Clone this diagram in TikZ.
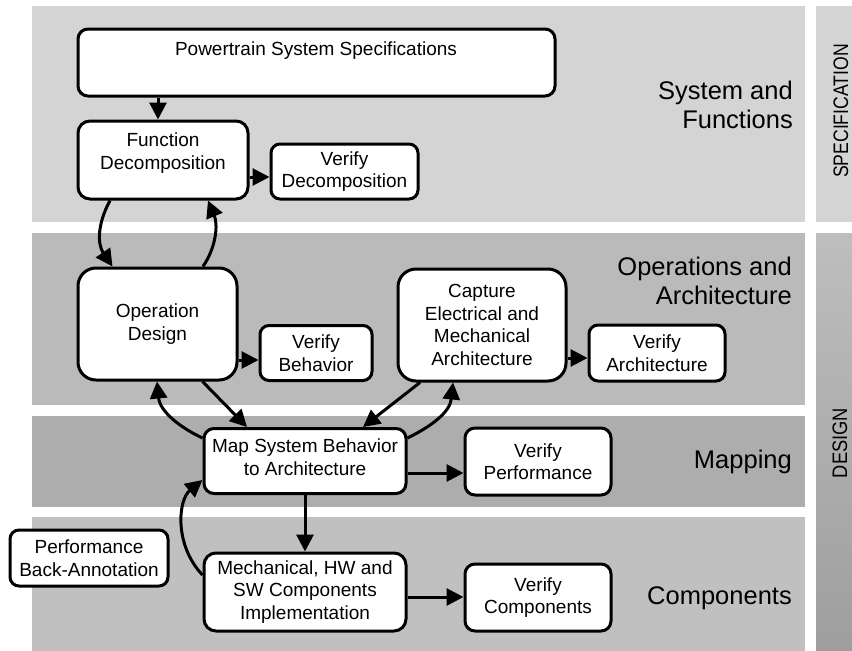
\documentclass[tikz,border=0pt]{standalone}
\usepackage{fontspec}
\setmainfont{Liberation Sans}
\usetikzlibrary{arrows.meta}
\definecolor{bandA}{HTML}{D4D4D4}
\definecolor{bandB}{HTML}{BABABA}
\definecolor{bandC}{HTML}{ADADAD}
\definecolor{bandD}{HTML}{C0C0C0}
\definecolor{dtop}{HTML}{BEBEBE}
\definecolor{dbot}{HTML}{9E9E9E}
\begin{document}
\begin{tikzpicture}[x=1pt,y=-1pt,
  box/.style={draw=black, line width=3pt, fill=white, rounded corners=9pt,
    inner sep=2pt, align=center, font=\fontsize{19}{22.5}\selectfont},
  txt/.style={inner sep=0pt, align=center, font=\fontsize{19}{22.5}\selectfont},
  lvl/.style={inner sep=0pt, align=right, font=\fontsize{25.5}{29}\selectfont},
  side/.style={inner sep=0pt, rotate=90, font=\fontsize{21}{24}\selectfont},
  arr/.style={line width=3pt, -{Triangle[length=17pt,width=17pt]}}]
\useasboundingbox (0,0) rectangle (852,651);
% bands
\fill[bandA] (32,6) rectangle (805,222);
\fill[bandB] (32,233) rectangle (805,405);
\fill[bandC] (32,416) rectangle (805,507);
\fill[bandD] (32,517) rectangle (805,651);
\fill[bandA] (816,6) rectangle (852,222);
\shade[top color=dtop, bottom color=dbot] (816,233) rectangle (852,651);
% side labels
\node[side] (spec) at (841,111) {\scalebox{0.84}[1]{SPECIFICATION}};
\node[side] (design) at (840,443) {\scalebox{0.87}[1]{DESIGN}};
% level labels
\node[lvl, anchor=east] (l1) at (793,105) {System and\\Functions};
\node[lvl, anchor=east] (l2) at (792,281) {Operations and\\Architecture};
\node[lvl, anchor=base east] (l3) at (792,468) {Mapping};
\node[lvl, anchor=base east] (l4) at (792,604) {Components};
% boxes
\node[box, rounded corners=10pt, minimum width=477pt, minimum height=67pt] (ps) at (316.5,62.5) {};
\node[txt] (pst) at (316,51) {Powertrain System Specifications};
\node[box, rounded corners=12pt, minimum width=170pt, minimum height=78pt] (fd) at (163,160) {};
\node[txt] (fdt) at (163,153) {Function\\Decomposition};
\node[box, minimum width=147pt, minimum height=55pt] (vd) at (344.5,171.5) {Verify\\Decomposition};
\node[box, rounded corners=18pt, minimum width=159pt, minimum height=112pt] (od) at (157.5,324) {Operation\\Design};
\node[box, minimum width=112pt, minimum height=55pt] (vb) at (316,353) {Verify\\Behavior};
\node[box, rounded corners=18pt, minimum width=168pt, minimum height=112pt] (cap) at (482,325) {Capture\\Electrical and\\Mechanical\\Architecture};
\node[box, minimum width=136pt, minimum height=56pt] (va) at (657,353) {Verify\\Architecture};
\node[box, rounded corners=10pt, minimum width=202pt, minimum height=65pt] (map) at (305,461) {};
\node[txt] (mapt) at (305,457) {Map System Behavior\\to Architecture};
\node[box, rounded corners=10pt, minimum width=146pt, minimum height=67pt] (vp) at (538,461.5) {Verify\\Performance};
\node[box, rounded corners=12pt, minimum width=202pt, minimum height=78pt] (mech) at (305,592) {Mechanical, HW and\\SW Components\\Implementation};
\node[box, rounded corners=10pt, minimum width=146pt, minimum height=67pt] (vc) at (538,597.5) {Verify\\Components};
\node[box, minimum width=158pt, minimum height=56pt] (pba) at (89,558) {Performance\\Back-Annotation};
% connectors
\draw[arr] ([xshift=-5pt]fd.north |- ps.south) -- ([xshift=-5pt]fd.north);
\draw[arr] ([yshift=-17pt]fd.east) -- ([yshift=-17pt]fd.east -| vd.west);
\draw[arr] ([xshift=-53pt]fd.south) .. controls ([xshift=-66pt,yshift=-24pt]fd.south) and ([xshift=-60pt,yshift=22pt]od.north) .. ([xshift=-45pt]od.north);
\draw[arr] ([xshift=45.5pt]od.north) .. controls ([xshift=59pt,yshift=20pt]od.north) and ([xshift=55pt,yshift=-24pt]fd.south) .. ([xshift=45pt]fd.south);
\draw[arr] ([yshift=-36pt]od.east) -- ([yshift=-36pt]od.east -| vb.west);
\draw[arr] ([yshift=-33pt]cap.east) -- ([yshift=-33pt]cap.east -| va.west);
\draw[arr] ([xshift=45pt]od.south) -- ([xshift=-58pt]map.north);
\draw[arr] ([yshift=23pt]map.west) .. controls (181,428) and (160,412) .. ([xshift=-0.5pt]od.south);
\draw[arr] ([xshift=-62pt]cap.south) -- ([xshift=58pt]map.north);
\draw[arr] ([yshift=23pt]map.east) .. controls (432,426) and (450,412) .. ([xshift=-29pt]cap.south);
\draw[arr] ([yshift=-12pt]map.east) -- ([yshift=-12pt]map.east -| vp.west);
\draw[arr] (map.south) -- (mech.north);
\draw[arr] ([yshift=17pt]mech.west) .. controls (174,545) and (178,500) .. ([yshift=-19pt]map.west);
\draw[arr] ([yshift=-5pt]mech.east) -- ([yshift=-5pt]mech.east -| vc.west);
\end{tikzpicture}
\end{document}
